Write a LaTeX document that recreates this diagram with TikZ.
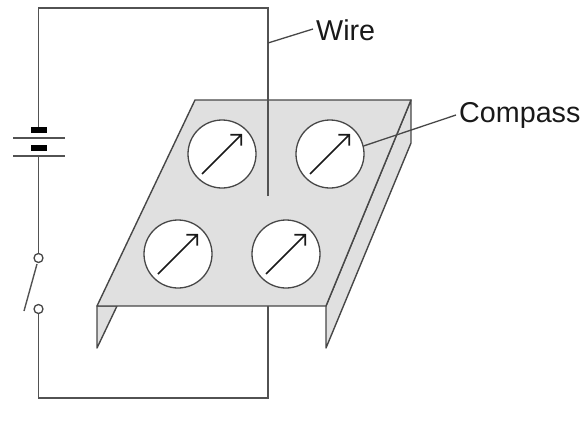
\documentclass[tikz,border=0pt]{standalone}
\usepackage{fontspec}
\setmainfont{Liberation Sans}
\usetikzlibrary{arrows.meta}
\tikzset{
  wire/.style={draw=black!68,line width=1.4pt},
  plate/.style={draw=black!72,fill=black!12,line width=1.4pt,line join=round},
  dial/.style={circle,draw=black!72,fill=white,line width=1.3pt,minimum size=68pt,inner sep=0pt},
  needle/.style={draw=black!90,line width=1.6pt,-{Straight Barb[length=7.5pt,width=15.5pt,line width=1.8pt]}},
  pivot/.style={circle,draw=black!72,fill=white,line width=1.3pt,minimum size=9pt,inner sep=0pt},
  cell/.style={fill=black,draw=none},
  lbl/.style={font=\fontsize{28.7}{31}\selectfont,inner sep=0pt,text=black!90},
  leader/.style={draw=black!72,line width=1.3pt}
}
\begin{document}
\begin{tikzpicture}[x=1pt,y=-1pt]
\useasboundingbox (0,0) rectangle (585,428);
% flanges
\path[plate] (97,306) -- (97,348) -- (117,306) -- cycle;
\path[plate] (411,100) -- (411,143) -- (326,348) -- (326,306) -- cycle;
% circuit
\coordinate (wTL) at (268,8);
\coordinate (wLT) at (38.5,8);
\coordinate (wLB) at (38.5,398);
\coordinate (wBR) at (268,398);
\coordinate (wEnd) at (268,196);
\coordinate (wUnder) at (268,306);
\coordinate (batTop) at (38.5,130);
\coordinate (batBot) at (38.5,156);
\node[pivot] (swA) at (38.5,258) {};
\node[pivot] (swB) at (38.5,309) {};
\coordinate (levTop) at (37,264);
\coordinate (levEnd) at (24,311);
% plate
\path[plate] (195,100) -- (411,100) -- (326,306) -- (97,306) -- cycle;
\draw[wire] (wEnd) -- (wTL) -- (wLT) -- (batTop);
\draw[wire] (batBot) -- (swA);
\draw[wire] (swB) -- (wLB) -- (wBR) -- (wUnder);
\draw[wire] (levTop) -- (levEnd);
% battery
\fill[cell] (31,127) rectangle (47,133);
\draw[wire] (13,138) -- (65,138);
\fill[cell] (31,145) rectangle (47,151);
\draw[wire] (13,156) -- (65,156);
% compasses
\foreach \n/\x/\y in {a/222/154,b/330/154,c/178/254,d/286/254}{
  \node[dial] (\n) at (\x,\y) {};
  \coordinate (\n s) at (\x-20,\y+20);
  \coordinate (\n e) at (\x+20,\y-20);
  \draw[needle] (\n s) -- (\n e);
}
% labels
\node[lbl,anchor=west] (wirelbl) at (316,30) {Wire};
\node[lbl,anchor=west] (complbl) at (459,115) {Compass};
\coordinate (wireTap) at (268,43);
\coordinate (wireLeadEnd) at (313,29);
\coordinate (compTap) at (363.5,146);
\coordinate (compLeadEnd) at (456,115);
\draw[leader] (wireTap) -- (wireLeadEnd);
\draw[leader] (compTap) -- (compLeadEnd);
\end{tikzpicture}
\end{document}
